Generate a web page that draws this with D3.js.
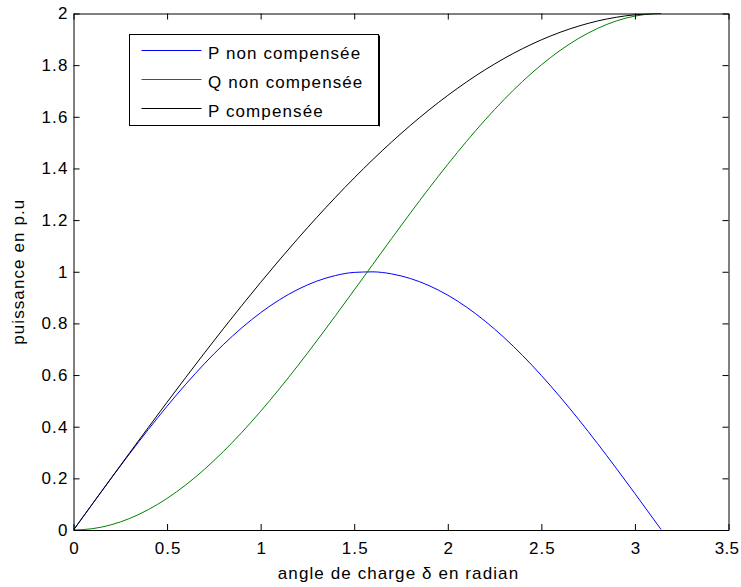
<!DOCTYPE html>
<html>
<head>
<meta charset="utf-8">
<script src="https://cdn.jsdelivr.net/npm/d3@7/dist/d3.min.js"></script>
<style>
  html, body { margin: 0; padding: 0; background: #fff; }
  svg { display: block; }
  text { font-family: "Liberation Sans", Arial, sans-serif; letter-spacing: 1.1px; }
</style>
</head>
<body>
<svg id="chart" width="741" height="587"></svg>
<script>
// load angle δ (rad)
const delta = [0, 0.1, 0.2, 0.3, 0.4, 0.5, 0.6, 0.7, 0.8, 0.9, 1.0, 1.1, 1.2, 1.3, 1.4, 1.5,
  1.6, 1.7, 1.8, 1.9, 2.0, 2.1, 2.2, 2.3, 2.4, 2.5, 2.6, 2.7, 2.8, 2.9, 3.0, 3.1, 3.14];

// active power, uncompensated line (p.u)
const pNonComp = [0, 0.0998, 0.1987, 0.2955, 0.3894, 0.4794, 0.5646, 0.6442, 0.7174, 0.7833,
  0.8415, 0.8912, 0.9320, 0.9636, 0.9854, 0.9975, 0.9996, 0.9917, 0.9738, 0.9463, 0.9093,
  0.8632, 0.8085, 0.7457, 0.6755, 0.5985, 0.5155, 0.4274, 0.3350, 0.2392, 0.1411, 0.0416, 0.0016];

// reactive power, uncompensated line (p.u)
const qNonComp = [0, 0.0050, 0.0199, 0.0447, 0.0789, 0.1224, 0.1747, 0.2352, 0.3033, 0.3784,
  0.4597, 0.5464, 0.6376, 0.7325, 0.8300, 0.9293, 1.0292, 1.1288, 1.2272, 1.3233, 1.4161,
  1.5048, 1.5885, 1.6663, 1.7374, 1.8011, 1.8569, 1.9041, 1.9422, 1.9710, 1.9900, 1.9991, 2.0000];

// active power, compensated line (p.u)
const pComp = [0, 0.0999, 0.1997, 0.2989, 0.3973, 0.4948, 0.5910, 0.6858, 0.7788, 0.8699,
  0.9589, 1.0454, 1.1293, 1.2104, 1.2884, 1.3633, 1.4347, 1.5026, 1.5667, 1.6268, 1.6829,
  1.7348, 1.7824, 1.8255, 1.8641, 1.8980, 1.9271, 1.9514, 1.9709, 1.9854, 1.9950, 1.9996, 2.0000];

const xTicks = [0, 0.5, 1, 1.5, 2, 2.5, 3, 3.5];
const yTicks = [0, 0.2, 0.4, 0.6, 0.8, 1, 1.2, 1.4, 1.6, 1.8, 2];

const seriesNames = ["P non compensée", "Q non compensée", "P compensée"];
const seriesColors = ["#0000ff", "#008000", "#000000"];
const seriesValues = [pNonComp, qNonComp, pComp];

const svg = d3.select("#chart");
const W = 741, H = 587;
const plot = { left: 73.5, right: 728.5, top: 13.5, bottom: 530 };
const fontSize = 17;

svg.append("rect").attr("width", W).attr("height", H).attr("fill", "#fff");

const x = d3.scaleLinear().domain([0, 3.5]).range([plot.left, plot.right]);
const y = d3.scaleLinear().domain([0, 2]).range([plot.bottom, plot.top]);

// clip curves to the axes box
svg.append("clipPath").attr("id", "plotClip")
  .append("rect")
  .attr("x", plot.left).attr("y", plot.top)
  .attr("width", plot.right - plot.left).attr("height", plot.bottom - plot.top);

const line = d3.line()
  .x((d, i) => x(delta[i]))
  .y(d => y(d))
  .curve(d3.curveMonotoneX);

const curves = svg.append("g").attr("clip-path", "url(#plotClip)");
seriesValues.forEach((vals, k) => {
  curves.append("path")
    .datum(vals)
    .attr("d", line)
    .attr("fill", "none")
    .attr("stroke", seriesColors[k])
    .attr("stroke-width", 1);
});

// axes with inward ticks, box on all four sides
const fmt = d => String(d);
const tick = 6;

const gx = svg.append("g").attr("transform", `translate(0,${plot.bottom})`)
  .call(d3.axisBottom(x).tickValues(xTicks).tickFormat(fmt).tickSizeInner(-tick).tickSizeOuter(0).tickPadding(11.5));
const gxt = svg.append("g").attr("transform", `translate(0,${plot.top})`)
  .call(d3.axisTop(x).tickValues(xTicks).tickFormat("").tickSizeInner(-tick).tickSizeOuter(0));
const gy = svg.append("g").attr("transform", `translate(${plot.left},0)`)
  .call(d3.axisLeft(y).tickValues(yTicks).tickFormat(fmt).tickSizeInner(-tick).tickSizeOuter(0).tickPadding(5));
const gyr = svg.append("g").attr("transform", `translate(${plot.right},0)`)
  .call(d3.axisRight(y).tickValues(yTicks).tickFormat("").tickSizeInner(-tick).tickSizeOuter(0));

[gx, gxt, gy, gyr].forEach(g => {
  g.select(".domain").attr("stroke", "#000").attr("stroke-width", 1);
  g.selectAll(".tick line").attr("stroke", "#000").attr("stroke-width", 1);
  g.selectAll(".tick text")
    .attr("fill", "#000")
    .style("font-size", fontSize + "px")
    .style("font-family", '"Liberation Sans", Arial, sans-serif');
});
// the last x label sits at the page edge: tighten it so it stays inside
gx.selectAll(".tick text")
  .attr("dy", "0.71em")
  .attr("dx", d => d === 3.5 ? -2 : 0.55)
  .style("letter-spacing", d => d === 3.5 ? "0.3px" : null);

// axis titles
svg.append("text")
  .attr("x", 398.5)
  .attr("y", 578.5)
  .attr("text-anchor", "middle")
  .style("font-size", fontSize + "px")
  .text("angle de charge δ en radian");

svg.append("text")
  .attr("transform", `translate(24,${(plot.top + plot.bottom) / 2}) rotate(-90)`)
  .attr("text-anchor", "middle")
  .style("font-size", fontSize + "px")
  .text("puissance en p.u");

// legend
const leg = { x: 129.5, y: 34.5, w: 249, h: 91 };
const lg = svg.append("g");
lg.append("rect")
  .attr("x", leg.x).attr("y", leg.y)
  .attr("width", leg.w).attr("height", leg.h)
  .attr("fill", "#fff").attr("stroke", "#000").attr("stroke-width", 1);
lg.append("line")
  .attr("x1", leg.x + leg.w + 1).attr("x2", leg.x + leg.w + 1)
  .attr("y1", leg.y + 1).attr("y2", leg.y + leg.h + 1)
  .attr("stroke", "#000").attr("stroke-width", 1);

const rowY = [50.5, 79.5, 108.5];
seriesNames.forEach((name, k) => {
  lg.append("line")
    .attr("x1", 141.5).attr("x2", 201.5)
    .attr("y1", rowY[k]).attr("y2", rowY[k])
    .attr("stroke", seriesColors[k]).attr("stroke-width", 1);
  lg.append("text")
    .attr("x", 208)
    .attr("y", rowY[k] + 8)
    .style("font-size", fontSize + "px")
    .text(name);
});
</script>
</body>
</html>
